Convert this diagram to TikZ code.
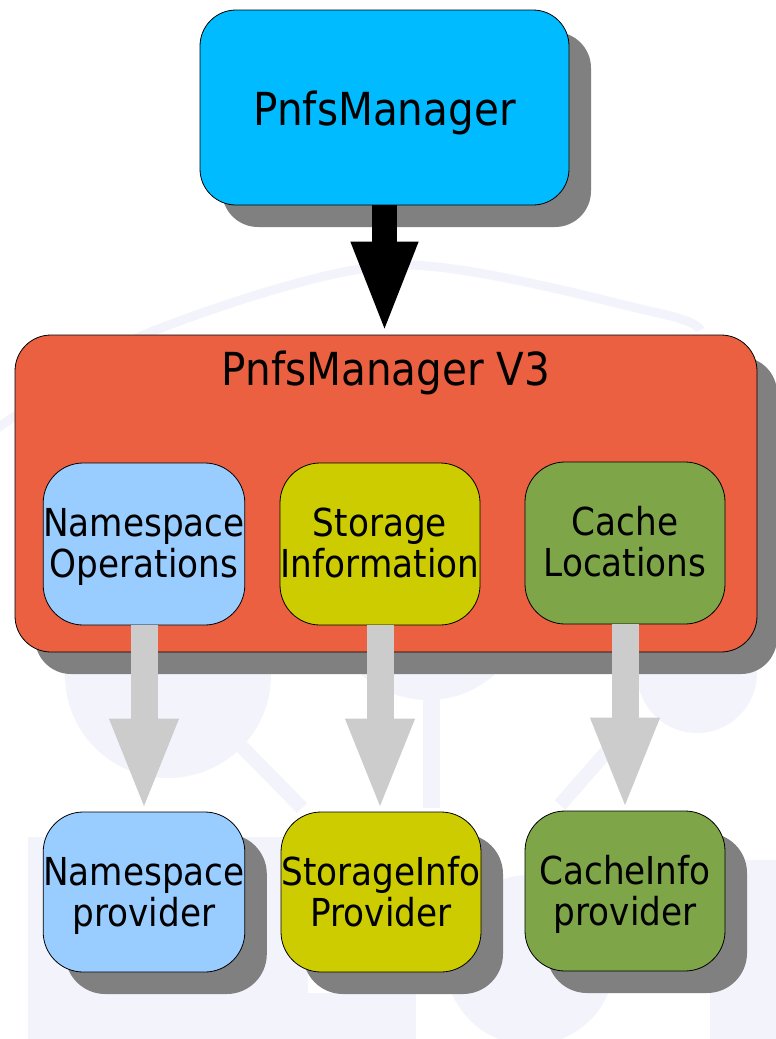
\documentclass[tikz,border=0pt]{standalone}
\usepackage{fontspec}
\setmainfont[FakeStretch=0.89]{DejaVu Sans}
\usetikzlibrary{shadows,arrows.meta}
\definecolor{wm}{HTML}{F3F3FC}
\definecolor{topc}{HTML}{00BBFF}
\definecolor{bigc}{HTML}{EA6041}
\definecolor{nsc}{HTML}{99CCFF}
\definecolor{sic}{HTML}{CCCC00}
\definecolor{clc}{HTML}{7EA547}
\definecolor{shc}{HTML}{808080}
\definecolor{garrow}{HTML}{CCCCCC}
\newcommand{\hstrut}[1]{\rule{0pt}{#1}}
\newcommand{\dstrut}{\rule[-9.2pt]{0pt}{1pt}}
\begin{document}
\begin{tikzpicture}[x=1pt,y=-1pt,
  box/.style={draw=black, line width=0.8pt, rounded corners=36pt, inner sep=0pt, align=center},
  shad/.style={drop shadow={shadow xshift=22pt, shadow yshift=-22pt, fill=shc, opacity=1}},
  bigfont/.style={font=\fontsize{45.5}{54}\selectfont},
  smallfont/.style={font=\fontsize{38.5}{41.5}\selectfont},
  blackarrow/.style={line width=25pt, draw=black, -{Triangle[length=93pt,width=60pt]}},
  greyarrow/.style={line width=27pt, draw=garrow, -{Triangle[length=93pt,width=62pt,fill=garrow]}},
  wmline/.style={draw=wm, line width=14pt}
]
\useasboundingbox (0,0) rectangle (776,1039);
\fill[white] (0,0) rectangle (776,1039);
% faint watermark
\draw[draw=wm, line width=9pt] plot[smooth] coordinates {(-5,430) (20,413) (148,333) (396,265) (658,313) (700,330)};
\fill[wm] (168,675) circle (103);
\fill[wm] (428,600) circle (100);
\fill[wm] (697,673) circle (60);
\draw[wmline] (240,745) -- (302,808);
\fill[wm] (423,674) rectangle (440,808);
\draw[wmline] (560,805) -- (630,725);
\fill[wm] (28,837) rectangle (245,1039);
\fill[wm] (245,837) rectangle (308,1039);
\fill[wm] (308,993) rectangle (416,1039);
\fill[wm] (530,960) circle (85);
\fill[wm] (710,860) rectangle (776,1039);
% boxes
\node[box, shad, fill=topc, minimum width=369pt, minimum height=195pt, bigfont, text height=35pt, text depth=0pt] (pm) at (384.5,107.5) {PnfsManager};
\node[box, drop shadow={shadow xshift=20pt, shadow yshift=-22pt, fill=shc, opacity=1}, fill=bigc, minimum width=742pt, minimum height=317pt] (v3) at (386,493.5) {};
\node[bigfont, anchor=base, inner sep=0pt] (v3t) at (386,385) {PnfsManager V3};
\node[box, fill=nsc, minimum width=200pt, minimum height=162pt, rounded corners=40pt, smallfont] (nso) at (144,544) {\hstrut{35pt}Namespace\\Operations\dstrut};
\node[box, fill=sic, minimum width=200pt, minimum height=162pt, rounded corners=40pt, smallfont] (sti) at (380,544) {\hstrut{35pt}Storage\\Information\dstrut};
\node[box, fill=clc, minimum width=200pt, minimum height=162pt, rounded corners=40pt, smallfont] (cal) at (625,543) {\hstrut{35pt}Cache\\Locations\dstrut};
\node[box, shad, fill=nsc, minimum width=200pt, minimum height=160pt, rounded corners=40pt, smallfont] (nsp) at (144,892) {\hstrut{37pt}Namespace\\provider\dstrut};
\node[box, shad, fill=sic, minimum width=200pt, minimum height=160pt, rounded corners=40pt, smallfont] (sip) at (381,892) {\hstrut{37pt}StorageInfo\\Provider\dstrut};
\node[box, shad, fill=clc, minimum width=200pt, minimum height=160pt, rounded corners=40pt, smallfont] (cip) at (625,891) {\hstrut{37pt}CacheInfo\\provider\dstrut};
% arrows
\draw[blackarrow] (pm.south) -- (pm.south |- v3.north);
\draw[greyarrow] (nso.south) -- (nsp.north);
\draw[greyarrow] (sti.south) -- (sti.south |- sip.north);
\draw[greyarrow] (cal.south) -- (cip.north);
\end{tikzpicture}
\end{document}
